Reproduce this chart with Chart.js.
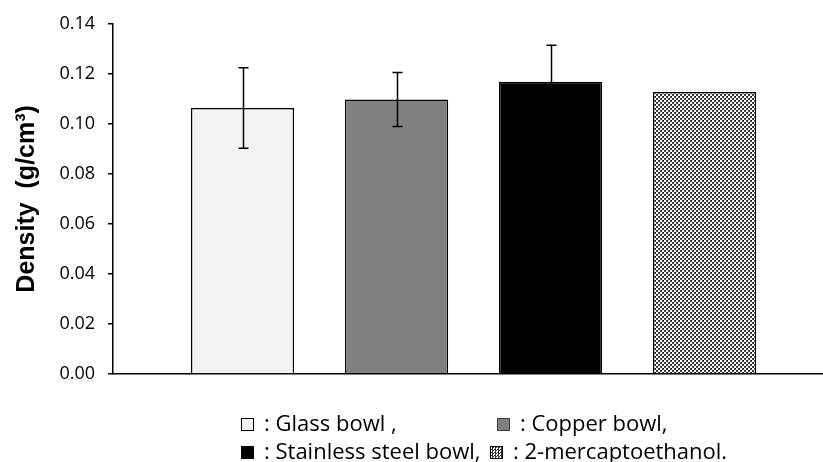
<!DOCTYPE html>
<html lang="en">
<head>
  <meta charset="UTF-8" />
  <title>Density</title>
  <script src="https://cdn.jsdelivr.net/npm/chart.js"></script>
  <style>
    body {
      margin: 0;
      background: #fff;
    }
    .wrap {
      position: relative;
      width: 823px;
      height: 462px;
    }
    .legend-item {
      position: absolute;
      font-family: "Open Sans", sans-serif;
      font-size: 22px;
      line-height: 28px;
      color: #000;
      white-space: nowrap;
    }
    .sw {
      display: inline-block;
      width: 13px;
      height: 13px;
      border: 1px solid #000;
      margin-right: 10px;
      vertical-align: 0px;
      box-sizing: border-box;
    }
  </style>
</head>
<body>
  <div class="wrap" id="wrap">
    <canvas id="densityChart" width="823" height="462"></canvas>
  </div>

  <script>
    // data
    const bowls = ["Glass bowl", "Copper bowl", "Stainless steel bowl", "2-mercaptoethanol"];
    const legendTexts = [": Glass bowl ,", ": Copper bowl,", ": Stainless steel bowl,", ": 2-mercaptoethanol."];
    const barPositions = [1, 2, 3, 4];
    const densityValues = [0.1063, 0.1097, 0.1168, 0.1127];
    const densityErrors = [0.0161, 0.0108, 0.0146, 0];
    const yTickValues = [0, 0.02, 0.04, 0.06, 0.08, 0.10, 0.12, 0.14];

    // small checker pattern for the last bar
    function makePattern(ctx) {
      const tile = document.createElement('canvas');
      tile.width = 4;
      tile.height = 4;
      const t = tile.getContext('2d');
      t.fillStyle = '#444444';
      t.fillRect(0, 0, 4, 4);
      t.fillStyle = '#ffffff';
      t.fillRect(0, 0, 2, 2);
      t.fillRect(2, 2, 2, 2);
      t.fillStyle = '#000000';
      t.fillRect(3, 0, 1, 1);
      t.fillRect(1, 2, 1, 1);
      return ctx.createPattern(tile, 'repeat');
    }

    const canvas = document.getElementById('densityChart');
    const ctx = canvas.getContext('2d');
    const fills = ['#f2f2f2', '#808080', '#000000', makePattern(ctx)];

    const errorBars = {
      id: 'errorBars',
      afterDatasetsDraw(chart) {
        const c = chart.ctx;
        const x = chart.scales.x;
        const y = chart.scales.y;
        c.save();
        c.strokeStyle = '#000';
        c.lineWidth = 1.5;
        densityValues.forEach((v, i) => {
          const e = densityErrors[i];
          if (!e) return;
          const px = Math.round(x.getPixelForValue(barPositions[i])) + 0.5;
          const top = y.getPixelForValue(v + e);
          const bot = y.getPixelForValue(v - e);
          c.beginPath();
          c.moveTo(px, top);
          c.lineTo(px, bot);
          c.moveTo(px - 5, top);
          c.lineTo(px + 5, top);
          c.moveTo(px - 5, bot);
          c.lineTo(px + 5, bot);
          c.stroke();
        });
        c.restore();
      }
    };

    new Chart(ctx, {
      type: 'bar',
      data: {
        labels: bowls,
        datasets: [{
          label: 'Density',
          data: densityValues.map((v, i) => ({ x: barPositions[i], y: v })),
          backgroundColor: fills,
          borderColor: '#000',
          borderWidth: 1.5,
          barPercentage: 0.67,
          categoryPercentage: 1
        }]
      },
      options: {
        responsive: false,
        animation: false,
        events: [],
        layout: {
          padding: { top: 19, bottom: 88, left: 0, right: 0 }
        },
        plugins: {
          legend: { display: false },
          tooltip: { enabled: false }
        },
        scales: {
          x: {
            type: 'linear',
            offset: false,
            min: 0.159,
            max: 4.769,
            afterBuildTicks(s) {
              s.ticks = barPositions.map(v => ({ value: v }));
            },
            ticks: { display: false },
            grid: { display: false, offset: false },
            border: { display: true, color: '#000', width: 1.5 },
            afterFit(s) { s.height = 0; }
          },
          y: {
            min: 0,
            max: 0.14,
            afterBuildTicks(s) {
              s.ticks = yTickValues.map(v => ({ value: v }));
            },
            afterFit(s) { s.width = 113; },
            ticks: {
              padding: 13,
              color: '#000',
              font: { family: 'Open Sans', size: 18 },
              callback: v => v.toFixed(2)
            },
            grid: {
              display: true,
              drawOnChartArea: false,
              drawTicks: true,
              tickLength: 5,
              color: '#000',
              lineWidth: 1.5
            },
            border: { display: true, color: '#000', width: 1.5 },
            title: {
              display: true,
              text: 'Density  (g/cm³)',
              color: '#000',
              font: { family: 'Liberation Sans', size: 25, weight: 'bold' },
              padding: { top: 12, bottom: 0 }
            }
          }
        }
      },
      plugins: [errorBars]
    });

    // legend below the plot, two rows
    const legendSpots = [[241, 408], [497, 408], [241, 436], [490, 436]];
    const swatchCss = [
      'background:#f2f2f2',
      'background:#808080;border-color:#404040',
      'background:#000',
      'background:repeating-conic-gradient(#333 0 25%, #fff 0 50%) 0 0/3px 3px'
    ];
    const wrap = document.getElementById('wrap');
    legendTexts.forEach((txt, i) => {
      const d = document.createElement('div');
      d.className = 'legend-item';
      d.style.left = legendSpots[i][0] + 'px';
      d.style.top = legendSpots[i][1] + 'px';
      d.innerHTML = '<span class="sw" style="' + swatchCss[i] + '"></span>' + txt;
      wrap.appendChild(d);
    });
  </script>
</body>
</html>
